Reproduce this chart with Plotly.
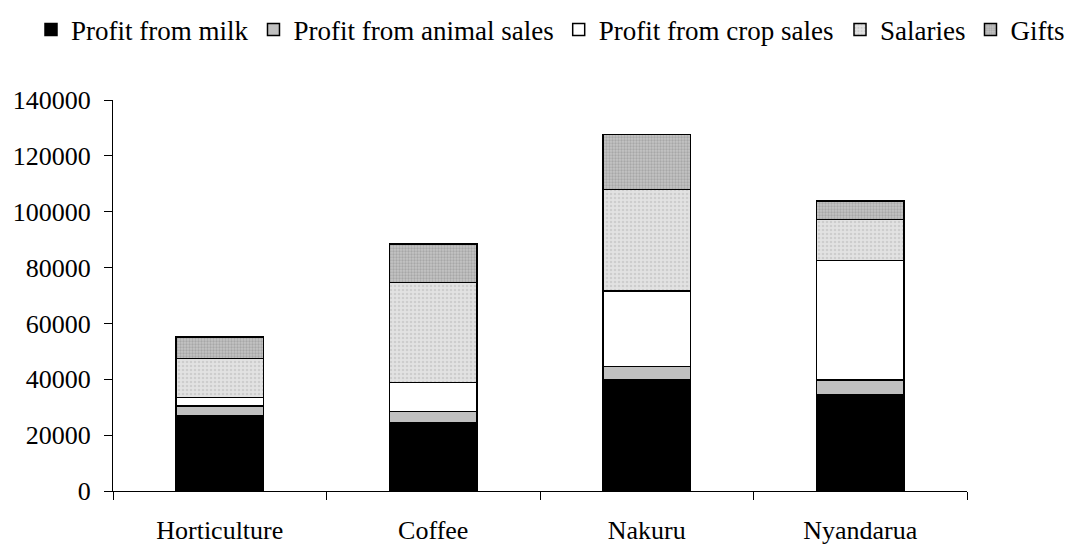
import plotly.graph_objects as go

# --- Données (en shillings) ---
secteurs = ["Horticulture", "Coffee", "Nakuru", "Nyandarua"]

profit_lait = [26800, 24400, 39700, 34300]
profit_animaux = [3700, 4000, 4800, 5400]
profit_cultures = [2900, 10500, 27200, 42900]
salaires = [14100, 35800, 36200, 14700]
dons = [7700, 13700, 19700, 6500]

ticks_y = [0, 20000, 40000, 60000, 80000, 100000, 120000, 140000]

POLICE = "Liberation Serif, Times New Roman, serif"

# nom de la série, valeurs, couleur de fond, motif, légende
# (deux légendes car une seule ligne dépasse la largeur autorisée par plotly)
series = [
    ("Profit from milk", profit_lait, "black", None, "legend"),
    ("Profit from animal sales", profit_animaux, "#c0c0c0", None, "legend"),
    ("Profit from crop sales", profit_cultures, "white", None, "legend"),
    ("Salaries", salaires, "#e2e2e2", dict(shape=".", fgcolor="#b8b8b8", size=4, solidity=0.35), "legend2"),
    ("Gifts", dons, "#c4c4c4", dict(shape=".", fgcolor="#8a8a8a", size=3, solidity=0.45), "legend2"),
]

fig = go.Figure()
for nom, valeurs, couleur, motif, leg in series:
    marker = dict(color=couleur, line=dict(color="black", width=1.5))
    if motif is not None:
        marker["pattern"] = dict(bgcolor=couleur, **motif)
    fig.add_trace(go.Bar(name=nom, x=secteurs, y=valeurs, marker=marker, legend=leg))

LARGEUR, HAUTEUR = 1067, 544

style_legende = dict(
    orientation="h",
    xref="container",
    yref="container",
    xanchor="left",
    y=0.945,
    yanchor="middle",
    font=dict(family=POLICE, size=27, color="black"),
    traceorder="normal",
    itemwidth=30,
    bgcolor="rgba(0,0,0,0)",
)

fig.update_layout(
    barmode="stack",
    bargap=0.59,
    width=LARGEUR,
    height=HAUTEUR,
    plot_bgcolor="white",
    paper_bgcolor="white",
    font=dict(family=POLICE, size=26, color="black"),
    margin=dict(l=113, r=100, t=100, b=53, autoexpand=False),
    legend=dict(x=31 / LARGEUR, **style_legende),
    legend2=dict(x=840 / LARGEUR, **style_legende),
)

fig.update_xaxes(
    showline=True,
    linecolor="black",
    linewidth=1,
    ticks="outside",
    tickson="boundaries",
    ticklen=8,
    tickcolor="black",
    ticklabelstandoff=16,
    showgrid=False,
    automargin=False,
)
fig.update_yaxes(
    range=[0, 140000],
    tickvals=ticks_y,
    tickformat="d",
    showline=True,
    linecolor="black",
    linewidth=1,
    ticks="outside",
    ticklen=8,
    tickcolor="black",
    ticklabelstandoff=8,
    showgrid=False,
    zeroline=False,
    automargin=False,
)

# pas de marge de page ni de barre de défilement : la figure remplit la fenêtre
fig.write_html(
    "out.html",
    config={"displayModeBar": False},
    post_script="document.body.style.margin='0';document.body.style.overflow='hidden';",
)
